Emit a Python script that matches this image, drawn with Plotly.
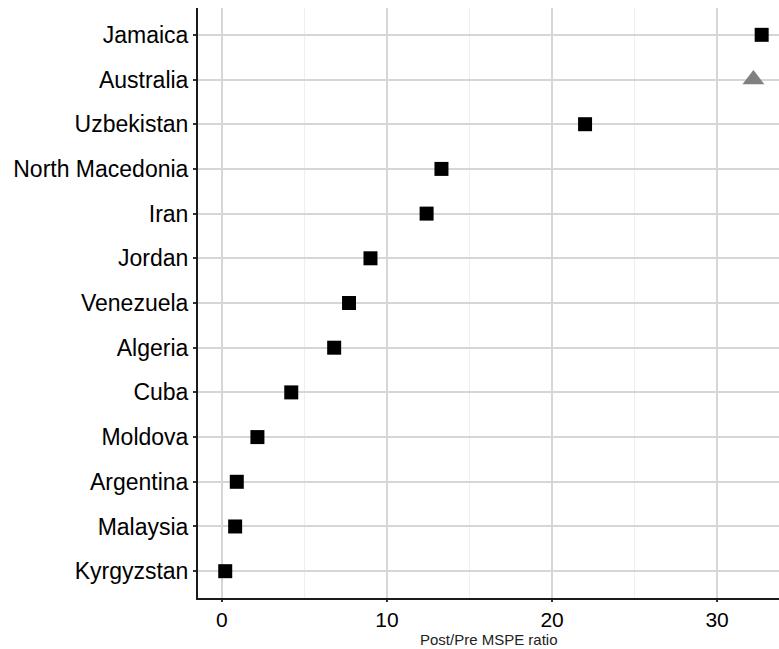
import plotly.graph_objects as go

countries = ["Kyrgyzstan", "Malaysia", "Argentina", "Moldova", "Cuba", "Algeria",
             "Venezuela", "Jordan", "Iran", "North Macedonia", "Uzbekistan",
             "Australia", "Jamaica"]
ratios = [0.2, 0.8, 0.9, 2.15, 4.2, 6.8, 7.7, 9.0, 12.4, 13.3, 22.0, 32.2, 32.7]
treated = "Australia"
x_title = "Post/Pre MSPE ratio"

sq_x = [r for c, r in zip(countries, ratios) if c != treated]
sq_y = [c for c in countries if c != treated]
tr_x = [r for c, r in zip(countries, ratios) if c == treated]
tr_y = [c for c in countries if c == treated]

fig = go.Figure()
fig.add_trace(go.Scatter(x=sq_x, y=sq_y, mode="markers",
                         marker=dict(symbol="square", size=14, color="black"),
                         showlegend=False))
fig.add_trace(go.Scatter(x=tr_x, y=tr_y, mode="markers",
                         marker=dict(symbol="triangle-up", size=19, color="#808080"),
                         showlegend=False))

fig.update_layout(
    width=779, height=649,
    margin=dict(l=198, r=0, t=8, b=51),
    plot_bgcolor="white", paper_bgcolor="white",
    font=dict(family="Liberation Sans, Arial, sans-serif", color="black"),
)
fig.add_annotation(text=x_title, xref="paper", yref="paper", x=0.5, y=0,
                   yshift=-41, yanchor="middle", showarrow=False,
                   borderpad=0,
                   font=dict(size=15, color="#222222"))
fig.update_xaxes(
    range=[-1.45, 33.75], tickvals=[0, 10, 20, 30],
    showgrid=True, gridcolor="#d6d6d6", gridwidth=1.5,
    minor=dict(tickvals=[5, 15, 25], showgrid=True, gridcolor="#eeeeee", gridwidth=1),
    showline=True, linecolor="#1a1a1a", linewidth=2,
    ticks="outside", ticklen=2, tickcolor="#333333", tickwidth=1.5,
    tickfont=dict(size=21, color="black"),
    zeroline=False,
)
fig.update_yaxes(
    type="category", categoryorder="array", categoryarray=countries,
    range=[-0.6, 12.6],
    showgrid=True, gridcolor="#d6d6d6", gridwidth=1.5,
    showline=True, linecolor="#1a1a1a", linewidth=2,
    ticks="outside", ticklen=3, tickcolor="#333333", tickwidth=1.5,
    tickfont=dict(size=23, color="black"),
)

fig.write_html("out.html")
